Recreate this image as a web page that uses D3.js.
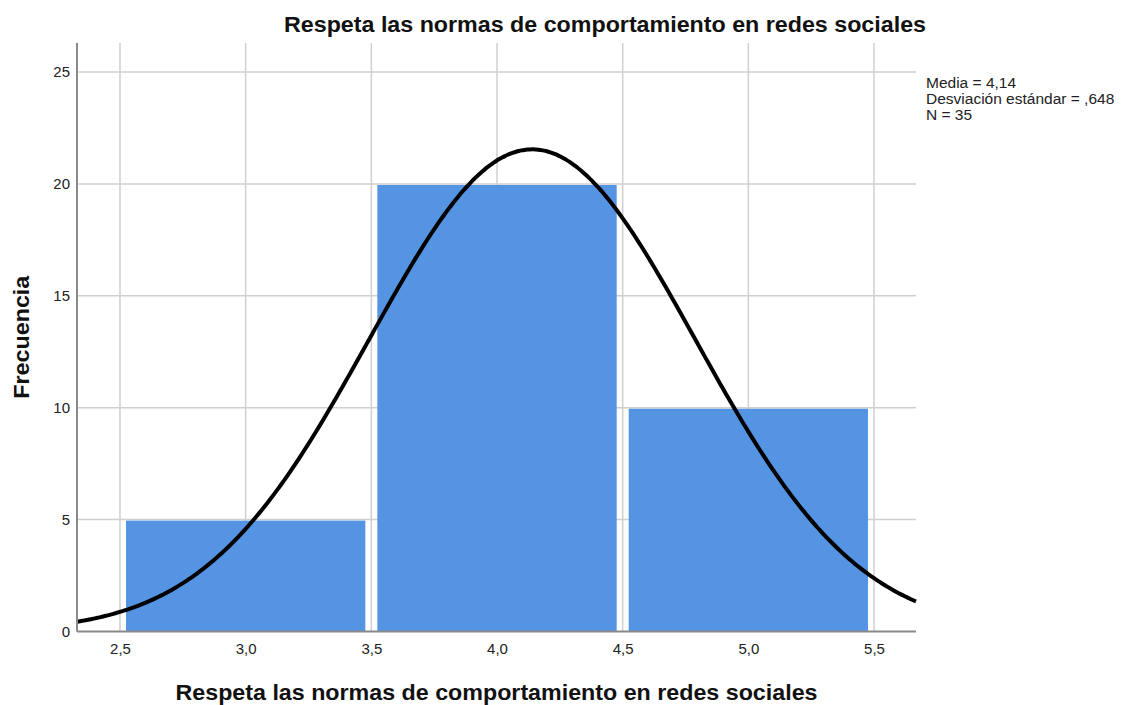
<!DOCTYPE html>
<html>
<head>
<meta charset="utf-8">
<script src="https://cdn.jsdelivr.net/npm/d3@7"></script>
<style>
  body { margin: 0; background: #fff; }
  text { font-family: "Liberation Sans", Arial, sans-serif; fill: #222; }
</style>
</head>
<body>
<div id="chart"></div>
<script>
// Histogram data
const binStarts = [2.5, 3.5, 4.5]
const binEnds = [3.5, 4.5, 5.5]
const counts = [5, 20, 10]

const xTicks = [2.5, 3.0, 3.5, 4.0, 4.5, 5.0, 5.5]
const yTicks = [0, 5, 10, 15, 20, 25]

// Summary stats (shown in the legend and used for the normal curve)
const mean = 4.14
const sd = 0.648
const n = 35
const statLines = ['Media = 4,14', 'Desviación estándar = ,648', 'N = 35']

const title = 'Respeta las normas de comportamiento en redes sociales'

const width = 1124,
  height = 705,
  plotLeft = 77,
  plotRight = 916,
  plotTop = 43,
  plotBottom = 631.5

let svg = d3.select('#chart')
  .append('svg')
  .attr('width', width)
  .attr('height', height)

let x = d3.scaleLinear().domain([2.329, 5.667]).range([plotLeft, plotRight])
let y = d3.scaleLinear().domain([0, 26.3]).range([plotBottom, plotTop])

const fmt = d => d3.format('.1f')(d).replace('.', ',')

// grid
svg.append('g')
  .selectAll('line')
  .data(yTicks.slice(1))
  .enter()
  .append('line')
  .attr('x1', plotLeft).attr('x2', plotRight)
  .attr('y1', d => y(d)).attr('y2', d => y(d))
  .attr('stroke', '#cfcfcf')
  .attr('stroke-width', 1.5)

svg.append('g')
  .selectAll('line')
  .data(xTicks)
  .enter()
  .append('line')
  .attr('x1', d => x(d)).attr('x2', d => x(d))
  .attr('y1', plotTop).attr('y2', plotBottom)
  .attr('stroke', '#cfcfcf')
  .attr('stroke-width', 1.5)

// bars
const inset = 6
svg.append('g')
  .selectAll('rect')
  .data(counts)
  .enter()
  .append('rect')
  .attr('x', (d, i) => x(binStarts[i]) + inset)
  .attr('width', (d, i) => x(binEnds[i]) - x(binStarts[i]) - 2 * inset)
  .attr('y', d => y(d) + 1)
  .attr('height', d => plotBottom - y(d) - 1)
  .attr('fill', '#5594e3')

// normal curve
let curveX = d3.range(0, 301).map(i => x.domain()[0] + (x.domain()[1] - x.domain()[0]) * i / 300)
let normal = v => n * 1 * Math.exp(-0.5 * ((v - mean) / sd) ** 2) / (sd * Math.sqrt(2 * Math.PI))

svg.append('path')
  .datum(curveX)
  .attr('fill', 'none')
  .attr('stroke', '#000')
  .attr('stroke-width', 4)
  .attr('d', d3.line().x(d => x(d)).y(d => y(normal(d))).curve(d3.curveBasis))

// axes
let yAxis = d3.axisLeft(y).tickValues(yTicks).tickSize(0).tickPadding(7)
svg.append('g')
  .attr('transform', `translate(${plotLeft},0)`)
  .call(yAxis)
  .call(g => g.select('.domain').attr('stroke', '#8a8a8a').attr('stroke-width', 2).attr('d', `M0,${plotTop}V${plotBottom}`))
  .selectAll('text')
  .style('font-size', '15px')
  .style('font-family', '"Liberation Sans", Arial, sans-serif')
  .attr('fill', '#222')

let xAxis = d3.axisBottom(x).tickValues(xTicks).tickFormat(fmt).tickSize(0).tickPadding(12)
svg.append('g')
  .attr('transform', `translate(0,${plotBottom})`)
  .call(xAxis)
  .call(g => g.select('.domain').attr('stroke', '#8a8a8a').attr('stroke-width', 2).attr('d', `M${plotLeft},0H${plotRight}`))
  .selectAll('text')
  .style('font-size', '15px')
  .style('font-family', '"Liberation Sans", Arial, sans-serif')
  .attr('fill', '#222')

// titles
svg.append('text')
  .attr('x', 605).attr('y', 32)
  .attr('text-anchor', 'middle')
  .attr('textLength', 642).attr('lengthAdjust', 'spacingAndGlyphs')
  .style('font-size', '22px').style('font-weight', 'bold')
  .style('fill', '#111')
  .text(title)

svg.append('text')
  .attr('x', (plotLeft + plotRight) / 2).attr('y', 700)
  .attr('text-anchor', 'middle')
  .attr('textLength', 642).attr('lengthAdjust', 'spacingAndGlyphs')
  .style('font-size', '22px').style('font-weight', 'bold')
  .style('fill', '#111')
  .text(title)

svg.append('text')
  .attr('transform', `translate(29,${(plotTop + plotBottom) / 2 + 0}) rotate(-90)`)
  .attr('text-anchor', 'middle')
  .attr('textLength', 123).attr('lengthAdjust', 'spacingAndGlyphs')
  .style('font-size', '22px').style('font-weight', 'bold')
  .style('fill', '#111')
  .text('Frecuencia')

// stats legend
svg.append('g')
  .selectAll('text')
  .data(statLines)
  .enter()
  .append('text')
  .attr('x', 926)
  .attr('y', (d, i) => 88 + i * 16)
  .style('font-size', '15.5px')
  .text(d => d)
</script>
</body>
</html>
